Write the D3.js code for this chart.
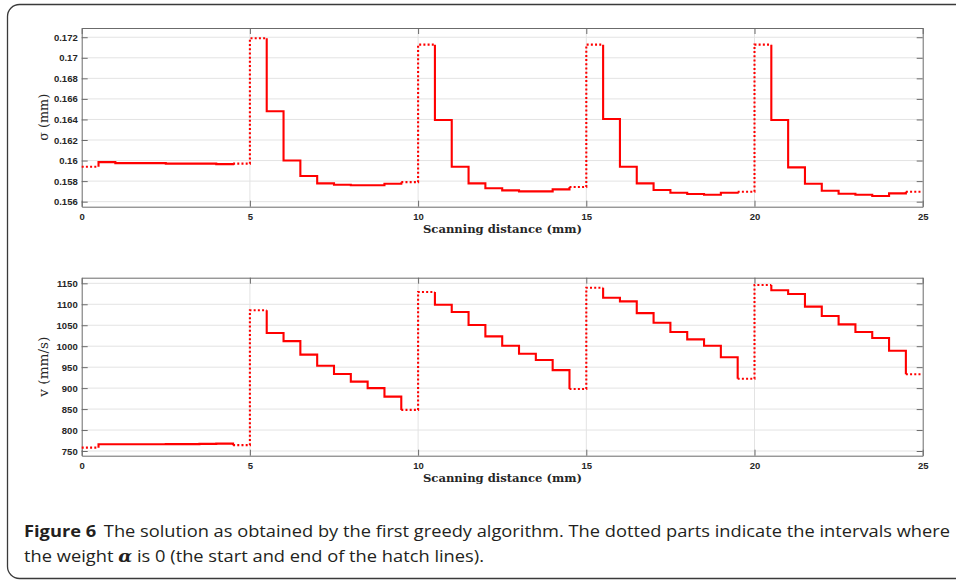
<!DOCTYPE html>
<html><head><meta charset="utf-8">
<script src="https://cdn.jsdelivr.net/npm/d3@7"></script>
<style>
body{margin:0;background:#fff;}
svg{display:block;}
</style></head>
<body>
<svg id="c" width="956" height="583"></svg>
<script>
// ---- data ----
const stepStart = d3.range(0, 25, 0.5); // start of each 0.5 mm interval
const stepWidth = 0.5;
const sigmaValues = [
 0.1594, 0.15985, 0.15975, 0.15975, 0.15975, 0.1597, 0.1597, 0.1597, 0.15965, 0.1597,
 0.1719, 0.1648, 0.1600, 0.1585, 0.15778, 0.15765, 0.1576, 0.1576, 0.15775, 0.1579,
 0.17128, 0.16395, 0.1594, 0.15778, 0.1573, 0.1571, 0.1570, 0.1570, 0.1572, 0.15742,
 0.17128, 0.16404, 0.1594, 0.15778, 0.15713, 0.15687, 0.15674, 0.15667, 0.15687, 0.15697,
 0.17128, 0.16395, 0.15934, 0.15775, 0.15706, 0.15677, 0.15667, 0.15655, 0.15681, 0.15697
];
const velocityValues = [
 758, 766, 766, 766, 766, 766.5, 766.5, 767, 767.5, 764,
 1085.6, 1031.5, 1012, 980, 953.5, 933.7, 915.4, 900, 879.6, 848,
 1129.3, 1099, 1081.5, 1050.5, 1023.4, 1001, 982, 967, 943, 898,
 1139.6, 1115.7, 1107, 1079, 1056, 1034, 1016.4, 1001.2, 973.5, 922.5,
 1146, 1133.3, 1124.5, 1094.3, 1072, 1052, 1034, 1019.5, 989.3, 933
];
// weight alpha is 0 on these intervals (dotted)
const alphaZero = [
 true, false, false, false, false, false, false, false, false, true,
 true, false, false, false, false, false, false, false, false, true,
 true, false, false, false, false, false, false, false, false, true,
 true, false, false, false, false, false, false, false, false, true,
 true, false, false, false, false, false, false, false, false, true
];
const xTicks = [0, 5, 10, 15, 20, 25];
const sigmaTicks = [0.156, 0.158, 0.16, 0.162, 0.164, 0.166, 0.168, 0.17, 0.172];
const sigmaTickLabels = ["0.156", "0.158", "0.16", "0.162", "0.164", "0.166", "0.168", "0.17", "0.172"];
const velocityTicks = [750, 800, 850, 900, 950, 1000, 1050, 1100, 1150];
const sigmaDomain = [0.15551, 0.17290];
const velocityDomain = [738.8, 1163.4];
const xLabel = "Scanning distance (mm)";

// ---- drawing ----
const svg = d3.select("#c");
// outer frame
svg.append("rect").attr("x", 7.5).attr("y", 4.5).attr("width", 980).attr("height", 574)
  .attr("rx", 12).attr("ry", 12).attr("fill", "none").attr("stroke", "#3a3a3a").attr("stroke-width", 1.3);

const left = 81.7, right = 922.7;
const x = d3.scaleLinear().domain([0, 25]).range([left, right]);

function panel(top, bottom, domain, ticks, tickFmt, values, yLabelText, yLabelLen, xLabelY) {
  const y = d3.scaleLinear().domain(domain).range([bottom, top]);
  const g = svg.append("g");
  // grid
  g.selectAll(".gy").data(ticks).join("line")
    .attr("x1", left).attr("x2", right).attr("y1", d => y(d)).attr("y2", d => y(d))
    .attr("stroke", "#e3e3e3").attr("stroke-width", 1);
  g.selectAll(".gx").data(xTicks.slice(1, -1)).join("line")
    .attr("x1", d => x(d)).attr("x2", d => x(d)).attr("y1", top).attr("y2", bottom)
    .attr("stroke", "#e3e3e3").attr("stroke-width", 1);

  // axes
  const tl = 6;
  const axL = g.append("g").attr("transform", `translate(${left},0)`)
    .call(d3.axisLeft(y).tickValues(ticks).tickFormat(tickFmt).tickSizeInner(-tl).tickSizeOuter(0).tickPadding(4));
  const axR = g.append("g").attr("transform", `translate(${right},0)`)
    .call(d3.axisRight(y).tickValues(ticks).tickFormat("").tickSizeInner(-tl).tickSizeOuter(0));
  const axB = g.append("g").attr("transform", `translate(0,${bottom})`)
    .call(d3.axisBottom(x).tickValues(xTicks).tickFormat(d3.format("d")).tickSizeInner(-tl).tickSizeOuter(0).tickPadding(5));
  const axT = g.append("g").attr("transform", `translate(0,${top})`)
    .call(d3.axisTop(x).tickValues(xTicks).tickFormat("").tickSizeInner(-tl).tickSizeOuter(0));
  [axL, axR, axB, axT].forEach(a => {
    a.select(".domain").attr("stroke", "#6b6b6b").attr("stroke-width", 1);
    a.selectAll(".tick line").attr("stroke", "#6b6b6b");
    a.selectAll("text").attr("font-family", "'Liberation Sans', Arial, sans-serif")
      .attr("font-weight", "bold").attr("font-size", 9.5).attr("fill", "#262626");
  });
  axB.selectAll(".tick text").attr("dy", "0.9em");

  // step line: solid and dotted runs
  const line = d3.line().x(d => x(d[0])).y(d => y(d[1])).curve(d3.curveStepAfter);
  const n = values.length;
  let i = 0;
  while (i < n) {
    let j = i;
    while (j + 1 < n && alphaZero[j + 1] === alphaZero[i]) j++;
    const pts = [];
    const dotted = alphaZero[i];
    if (!dotted && i > 0) pts.push([stepStart[i], values[i - 1]]);
    for (let k = i; k <= j; k++) pts.push([stepStart[k], values[k]]);
    pts.push([stepStart[j] + stepWidth, values[j]]);
    if (!dotted && j + 1 < n) pts.push([stepStart[j] + stepWidth, values[j + 1]]);
    g.append("path").attr("d", line(pts)).attr("fill", "none").attr("stroke", "#ff0000")
      .attr("stroke-width", 2.1)
      .attr("stroke-dasharray", dotted ? "2,2.2" : null)
      .attr("stroke-linejoin", "miter");
    i = j + 1;
  }

  // y label
  g.append("text").attr("transform", `translate(48,${(top + bottom) / 2}) rotate(-90)`)
    .attr("text-anchor", "middle")
    .attr("font-family", "'DejaVu Serif', 'Liberation Serif', serif").attr("font-size", 13)
    .attr("textLength", yLabelLen).attr("lengthAdjust", "spacingAndGlyphs")
    .attr("fill", "#262626").text(yLabelText);
  // x label
  g.append("text").attr("x", 502.5).attr("y", xLabelY).attr("text-anchor", "middle")
    .attr("font-family", "'DejaVu Serif', 'Liberation Serif', serif").attr("font-weight", "bold")
    .attr("font-size", 11.5).attr("fill", "#262626")
    .attr("textLength", 159).attr("lengthAdjust", "spacingAndGlyphs").text(xLabel);
}

panel(28, 206.7, sigmaDomain, sigmaTicks, (d, i) => sigmaTickLabels[i], sigmaValues, "σ (mm)", 47, 232.7);
panel(277.7, 455.7, velocityDomain, velocityTicks, d3.format("d"), velocityValues, "v (mm/s)", 60, 481.7);

// caption
const cap = svg.append("g").attr("font-family", "'Open Sans', 'Noto Sans', sans-serif").attr("fill", "#231f20");
const t1 = cap.append("text").attr("x", 24).attr("y", 537).attr("font-size", 16.5)
  .attr("textLength", 926).attr("lengthAdjust", "spacingAndGlyphs");
t1.append("tspan").attr("font-weight", "bold").text("Figure 6");
t1.append("tspan").attr("dx", 7).text("The solution as obtained by the first greedy algorithm. The dotted parts indicate the intervals where");
const t2 = cap.append("text").attr("x", 24).attr("y", 562).attr("font-size", 16.5)
  .attr("textLength", 460).attr("lengthAdjust", "spacingAndGlyphs");
t2.append("tspan").text("the weight ");
t2.append("tspan").attr("font-family", "'DejaVu Serif', serif").attr("font-style", "italic").attr("font-weight", "bold").text("α");
t2.append("tspan").text(" is 0 (the start and end of the hatch lines).");
</script>
</body></html>
